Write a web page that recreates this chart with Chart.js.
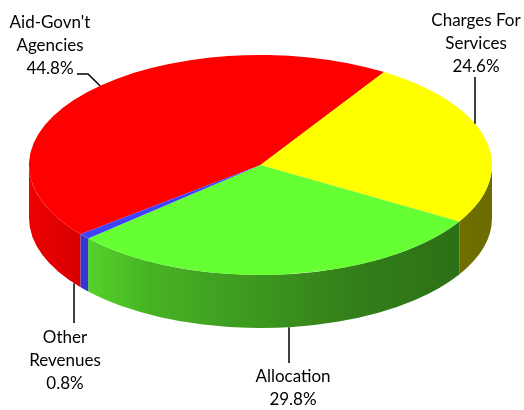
<!DOCTYPE html>
<html>
<head>
<meta charset="utf-8">
<script src="https://cdn.jsdelivr.net/npm/chart.js@4"></script>
<style>
  html, body { margin: 0; padding: 0; background: #fff; }
  canvas { display: block; }
</style>
</head>
<body>
<canvas id="revenue" width="524" height="410"></canvas>
<script>
const categories = [["Aid-Govn't", 'Agencies'], ['Charges For', 'Services'], ['Allocation'], ['Other', 'Revenues']];
const shares = [44.8, 24.6, 29.8, 0.8];
const sliceColors = ['#ff0000', '#ffff00', '#66ff33', '#4040ff'];

// The library lays the pie out as a circle of radius RY, which gets stretched to RX across.
const CX = 260.5, CY = 165, RX = 231.5, RY = 110, DEPTH = 53;
const W = 524, H = 410;

// brightness of the side wall from left to right (fraction of width, factor)
const sideShade = [[0, 0.93], [0.1, 0.85], [0.26, 0.7], [0.69, 0.5], [1, 0.42]];

// label block (centre of first line) and the leader that runs to the rim
const labelLayout = [
  { x: 50, y: 23, lead: [[77, 74], [88, 74]], rimX: 100, rim: 'top' },
  { x: 476, y: 21, lead: [[475, 77]], rimX: 475, rim: 'top' },
  { x: 293, y: 377, lead: [[289, 363]], rimX: 289, rim: 'bottom' },
  { x: 65, y: 338, lead: [[74, 323]], rimX: 74, rim: 'bottom' }
];
const LINE_H = 23;
const FONT = '17px Lato';

function shade(hex, k) {
  const n = parseInt(hex.slice(1), 16);
  const r = Math.round(((n >> 16) & 255) * k);
  const g = Math.round(((n >> 8) & 255) * k);
  const b = Math.round((n & 255) * k);
  return `rgb(${r},${g},${b})`;
}

const pie3d = {
  id: 'pie3d',
  beforeDatasetsDraw(chart) {
    const ctx = chart.ctx;
    const arcs = chart.getDatasetMeta(0).data;
    const { x, y, outerRadius: r } = arcs[0];
    const depth = DEPTH * r / RY;
    ctx.save();
    // squash the round pie into an ellipse; the arcs below are drawn inside this transform
    ctx.translate(x, y);
    ctx.scale(RX / r, RY / r);
    ctx.translate(-x, -y);

    // side walls: only the front half (0..PI) can be seen
    arcs.forEach((arc, i) => {
      [-2 * Math.PI, 0, 2 * Math.PI].forEach(shift => {
        const a0 = Math.max(arc.startAngle + shift, 0);
        const a1 = Math.min(arc.endAngle + shift, Math.PI);
        if (a1 <= a0) return;
        const grad = ctx.createLinearGradient(x - r, 0, x + r, 0);
        sideShade.forEach(([stop, k]) => grad.addColorStop(stop, shade(sliceColors[i], k)));
        ctx.fillStyle = grad;
        ctx.beginPath();
        ctx.arc(x, y, r, a0, a1);
        ctx.arc(x, y + depth, r, a1, a0, true);
        ctx.closePath();
        ctx.fill();
      });
    });
  },
  afterDatasetsDraw(chart) {
    chart.ctx.restore();
  },
  afterDraw(chart) {
    const ctx = chart.ctx;
    const { x, y } = chart.getDatasetMeta(0).data[0];
    const rimY = (px, side) => {
      const t = (px - x) / RX;
      const h = RY * Math.sqrt(Math.max(0, 1 - t * t));
      return side === 'top' ? y - h : y + h + DEPTH;
    };

    ctx.save();
    ctx.font = FONT;
    ctx.fillStyle = '#000';
    ctx.textAlign = 'center';
    ctx.textBaseline = 'middle';
    categories.forEach((lines, i) => {
      const lay = labelLayout[i];
      const text = lines.concat([shares[i].toFixed(1) + '%']);
      text.forEach((t, j) => ctx.fillText(t, lay.x, lay.y + j * LINE_H));

      ctx.strokeStyle = '#000';
      ctx.lineWidth = 1.5;
      ctx.beginPath();
      ctx.moveTo(lay.lead[0][0], lay.lead[0][1]);
      lay.lead.slice(1).forEach(p => ctx.lineTo(p[0], p[1]));
      ctx.lineTo(lay.rimX, rimY(lay.rimX, lay.rim));
      ctx.stroke();
    });
    ctx.restore();
  }
};

new Chart(document.getElementById('revenue'), {
  type: 'pie',
  data: {
    labels: categories,
    datasets: [{
      data: shares,
      backgroundColor: sliceColors,
      borderWidth: 0,
      hoverOffset: 0,
      offset: 0,
      clip: false
    }]
  },
  options: {
    responsive: false,
    animation: false,
    devicePixelRatio: 1,
    rotation: -129,
    layout: {
      padding: { left: CX - RY, right: W - CX - RY, top: CY - RY, bottom: H - CY - RY }
    },
    events: [],
    plugins: {
      legend: { display: false },
      tooltip: { enabled: false }
    }
  },
  plugins: [pie3d]
});
</script>
</body>
</html>
